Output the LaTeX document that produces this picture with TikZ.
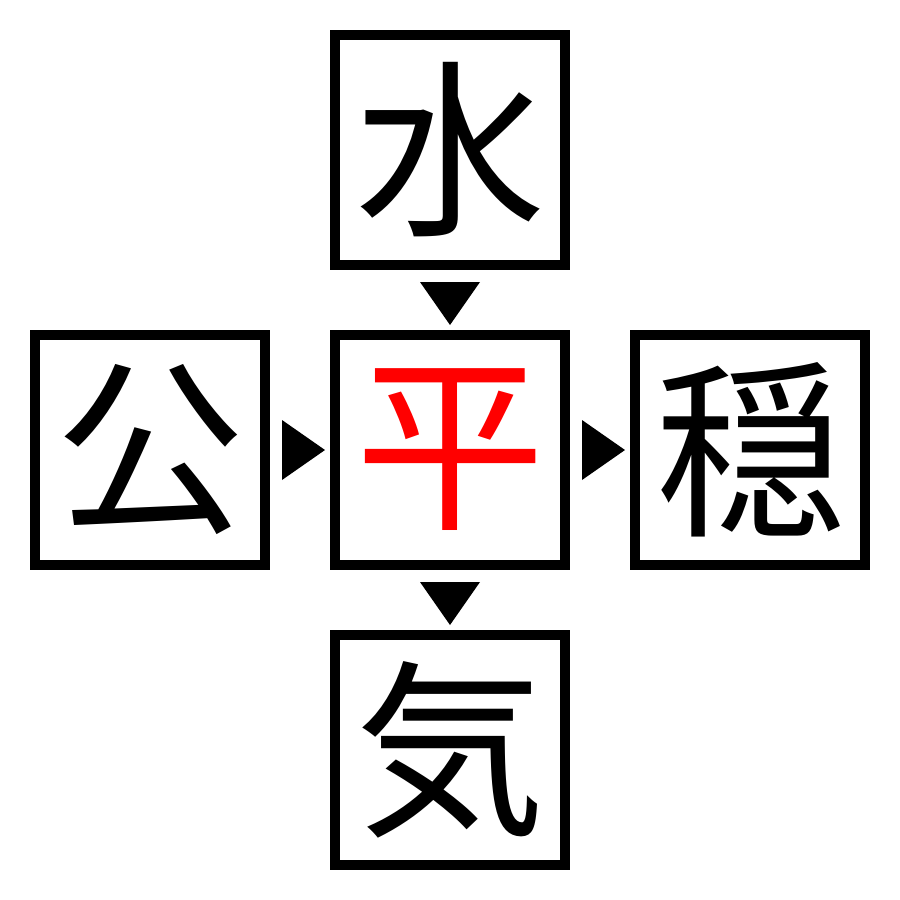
\documentclass[tikz,border=0pt]{standalone}
\usepackage{fontspec}
\usetikzlibrary{calc}
\newfontfamily\cjk{Noto Sans CJK JP}
\begin{document}
\begin{tikzpicture}[x=1pt,y=-1pt,
  kbox/.style={draw=black,line width=10pt,minimum size=230pt,inner sep=0pt,
    font=\cjk\fontsize{190}{190}\selectfont},
  tri/.style={fill=black}]
\useasboundingbox (0,0) rectangle (900,900);
\node[kbox] (top) at (450,150) {水};
\node[kbox] (mid) at (450,450) {\textcolor{red}{平}};
\node[kbox] (left) at (150,450) {公};
\node[kbox] (right) at (750,450) {穏};
\node[kbox] (bot) at (450,750) {気};
\path (top.south) -- (mid.north) coordinate[midway] (t1);
\path (mid.south) -- (bot.north) coordinate[midway] (t2);
\path (left.east) -- (mid.west) coordinate[midway] (t3);
\path (mid.east) -- (right.west) coordinate[midway] (t4);
\fill[tri] ($(t1)+(-30,-18)$) -- ($(t1)+(30,-18)$) -- ($(t1)+(0,25)$) -- cycle;
\fill[tri] ($(t2)+(-30,-18)$) -- ($(t2)+(30,-18)$) -- ($(t2)+(0,25)$) -- cycle;
\fill[tri] ($(t3)+(-18,-30)$) -- ($(t3)+(-18,30)$) -- ($(t3)+(25,0)$) -- cycle;
\fill[tri] ($(t4)+(-18,-30)$) -- ($(t4)+(-18,30)$) -- ($(t4)+(25,0)$) -- cycle;
\end{tikzpicture}
\end{document}
